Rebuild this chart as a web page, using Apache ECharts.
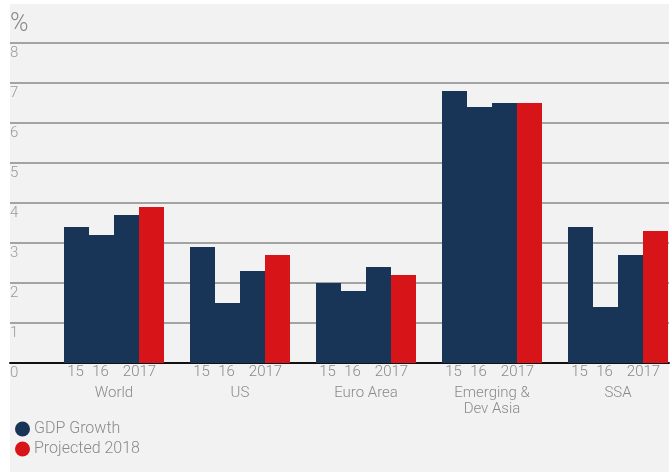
<!DOCTYPE html>
<html>
<head>
<meta charset="utf-8">
<script src="https://cdn.jsdelivr.net/npm/echarts@6/dist/echarts.min.js"></script>
<style>
  html, body { margin: 0; padding: 0; background: #ffffff; }
  #chart { width: 672px; height: 472px; }
</style>
</head>
<body>
<div id="chart"></div>
<script>
// Regions along the x axis
const regions = ['World', 'US', 'Euro Area', 'Emerging &\nDev Asia', 'SSA'];
// Year labels drawn under the GDP bars
const yearLabels = ['15', '16', '2017'];
// Real GDP growth, %
const gdp2015 = [3.4, 2.9, 2.0, 6.8, 3.4];
const gdp2016 = [3.2, 1.5, 1.8, 6.4, 1.4];
const gdp2017 = [3.7, 2.3, 2.4, 6.5, 2.7];
// Projected growth for 2018, %
const proj2018 = [3.9, 2.7, 2.2, 6.5, 3.3];
// Value-axis ticks
const yTicks = [0, 1, 2, 3, 4, 5, 6, 7, 8];

const NAVY = '#183558';
const RED = '#d71418';
const TEXT = '#8a8a8a';
const FONT = 'Roboto, "Liberation Sans", sans-serif';

const chart = echarts.init(document.getElementById('chart'), null, { renderer: 'canvas' });

const gdpSeries = [gdp2015, gdp2016, gdp2017].map((vals, i) => ({
  name: 'GDP Growth',
  type: 'bar',
  xAxisIndex: 1,
  yAxisIndex: 1,
  barWidth: 25,
  barGap: '0%',
  clip: false,
  itemStyle: { color: NAVY },
  label: {
    show: true,
    position: 'bottom',
    distance: 2,
    offset: i === 2 ? [13, 0] : [-1, 0],
    formatter: () => yearLabels[i],
    color: TEXT,
    fontFamily: FONT,
    fontWeight: 300,
    fontSize: 15
  },
  emphasis: { disabled: true },
  data: vals
}));

chart.setOption({
  animation: false,
  backgroundColor: '#ffffff',
  graphic: [
    { type: 'rect', z: -10, shape: { x: 10, y: 4, width: 659, height: 468 }, style: { fill: '#f2f2f2' } },
    { type: 'text', left: 10, top: 12, style: { text: '%', fontSize: 25, fontFamily: FONT, fontWeight: 300, fill: TEXT } }
  ],
  legend: {
    orient: 'vertical',
    left: 10,
    top: 416,
    itemWidth: 15,
    itemHeight: 15,
    itemGap: 4,
    icon: 'circle',
    data: [
      { name: 'GDP Growth', itemStyle: { color: NAVY } },
      { name: 'Projected 2018', itemStyle: { color: RED } }
    ],
    textStyle: { color: TEXT, fontSize: 16, fontFamily: FONT, fontWeight: 300, padding: [0, 0, 0, -1] },
    selectedMode: false
  },
  grid: [
    { left: 10, right: 3, top: 43, bottom: 109 },
    // group centres sit on the category ticks
    { left: 114, right: 54, top: 43, bottom: 109 }
  ],
  xAxis: [
    {
      gridIndex: 0, type: 'value', min: 0, max: 1,
      axisLine: { show: true, lineStyle: { color: '#111111', width: 2 } },
      axisTick: { show: false }, axisLabel: { show: false }, splitLine: { show: false }
    },
    {
      gridIndex: 1, type: 'category', data: regions, boundaryGap: false,
      axisLine: { show: false }, axisTick: { show: false }, splitLine: { show: false },
      axisLabel: {
        margin: 22, color: TEXT, fontSize: 15, lineHeight: 16,
        fontFamily: FONT, fontWeight: 300, interval: 0
      }
    }
  ],
  yAxis: [
    {
      gridIndex: 0, type: 'value', min: yTicks[0], max: yTicks[yTicks.length - 1], interval: 1,
      axisLine: { show: false }, axisTick: { show: false },
      axisLabel: {
        inside: true, margin: 0, verticalAlign: 'top', align: 'left',
        padding: [3, 0, 0, 0], color: '#9a9a9a', fontSize: 15, fontFamily: FONT, fontWeight: 300
      },
      splitLine: { show: true, lineStyle: { color: '#888888', width: 1.5 } }
    },
    {
      gridIndex: 1, type: 'value', min: yTicks[0], max: yTicks[yTicks.length - 1], show: false,
      splitLine: { show: false }
    }
  ],
  series: [
    ...gdpSeries,
    {
      name: 'Projected 2018',
      type: 'bar',
      xAxisIndex: 1,
      yAxisIndex: 1,
      barWidth: 25,
      barGap: '0%',
      clip: false,
      itemStyle: { color: RED },
      emphasis: { disabled: true },
      data: proj2018
    }
  ]
});
</script>
</body>
</html>
